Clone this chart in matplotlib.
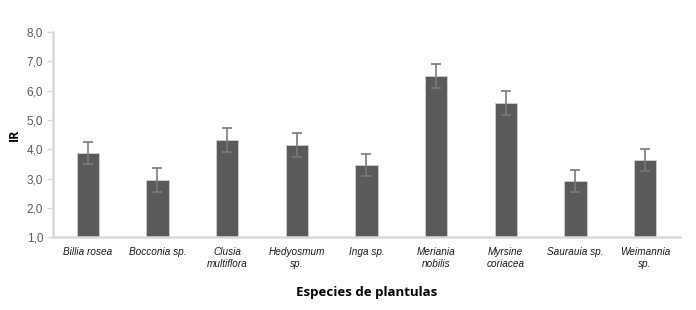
import matplotlib
matplotlib.use("Agg")
import matplotlib.pyplot as plt
import numpy as np

species = ["Billia rosea", "Bocconia sp.", "Clusia\nmultiflora", "Hedyosmum\nsp.",
           "Inga sp.", "Meriania\nnobilis", "Myrsine\ncoriacea", "Saurauia sp.", "Weimannia\nsp."]
ir = [3.87, 2.95, 4.31, 4.14, 3.46, 6.49, 5.57, 2.91, 3.63]
err = [0.38, 0.40, 0.41, 0.41, 0.38, 0.41, 0.41, 0.38, 0.38]
yticks = [1, 2, 3, 4, 5, 6, 7, 8]

fig = plt.figure(figsize=(6.96, 3.10), dpi=100)
ax = fig.add_axes([0.076, 0.235, 0.901, 0.662])

x = np.arange(len(species))
ax.bar(x, [v - 1 for v in ir], bottom=1, width=0.32, color="#5a5a5a",
       edgecolor="#d0d0d0", linewidth=0.6, zorder=2)
ax.errorbar(x, ir, yerr=err, fmt="none", ecolor="#7a7a7a", elinewidth=1.2,
            capsize=3.5, capthick=1.2, zorder=3)

ax.set_xlim(-0.5, len(species) - 0.5)
ax.set_ylim(1, 8)
ax.set_yticks(yticks)
ax.set_yticklabels([f"{t:.1f}".replace(".", ",") for t in yticks],
                   fontsize=8.5, color="#595959", family="Liberation Sans")
ax.set_xticks(x)
ax.set_xticklabels(species, fontsize=7.2, style="italic", family="Liberation Sans",
                   color="#1a1a1a", linespacing=1.3)
ax.tick_params(axis="x", length=0, pad=7)
ax.tick_params(axis="y", length=4, color="#d9d9d9", width=1, pad=3)

for s in ["top", "right"]:
    ax.spines[s].set_visible(False)
for s in ["left", "bottom"]:
    ax.spines[s].set_color("#d9d9d9")
    ax.spines[s].set_linewidth(1.8)

ax.set_ylabel("IR", fontsize=9, fontweight="bold", family="Open Sans", labelpad=4)
ax.set_xlabel("Especies de plantulas", fontsize=9.5, fontweight="bold",
              family="Open Sans", labelpad=12)

fig.savefig("out.png", dpi=100)
